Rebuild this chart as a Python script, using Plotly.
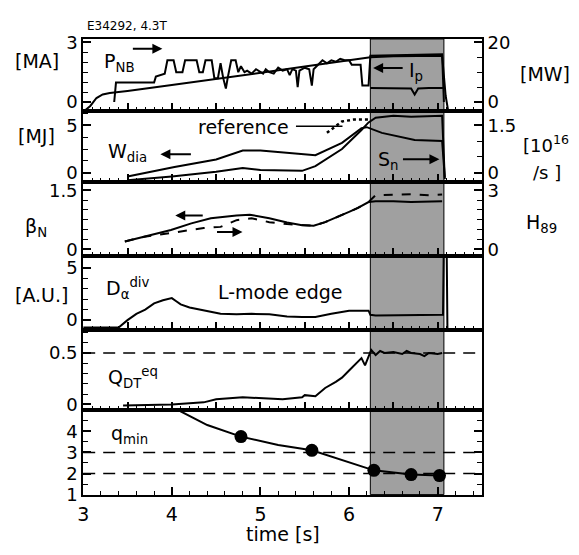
import plotly.graph_objects as go

W, H = 579, 555
FONT = "DejaVu Sans"
FS = 19
TFS = 18

# ---------------- data ----------------
# panel 1: plasma current [MA] and NB power [MW]
ip_t = [3.0, 3.08, 3.15, 3.22, 3.3, 3.5, 4.0, 4.5, 5.0, 5.5, 6.0, 6.24, 6.5, 7.0, 7.05, 7.09, 7.12]
ip_ma = [-0.5, -0.2, 0.2, 0.38, 0.45, 0.55, 0.85, 1.15, 1.47, 1.78, 2.1, 2.25, 2.3, 2.33, 2.33, 0.3, -0.5]

pnb_t = [3.35, 3.37, 3.8, 3.82, 3.92, 3.95, 4.02, 4.05, 4.12, 4.15, 4.28, 4.31, 4.35, 4.38, 4.45,
         4.48, 4.52, 4.55, 4.58, 4.61, 4.63, 4.67, 4.72, 4.75, 4.78, 4.82, 4.85, 4.9, 4.95, 5.0,
         5.03, 5.06, 5.1, 5.15, 5.2, 5.25, 5.3, 5.33, 5.36, 5.4, 5.42, 5.44, 5.5, 5.55, 5.58,
         5.6, 5.65, 5.7, 5.75, 5.8, 5.85, 5.9, 5.95, 6.0, 6.03, 6.13, 6.15, 6.22, 6.24, 7.05, 7.07]
pnb_mw = [0, 6.5, 6.5, 8.5, 9.5, 14, 14, 10, 10, 14, 14, 10, 10, 14, 14,
          8, 8, 13, 8, 4.5, 8, 14, 14, 10, 12, 10, 10.5, 9.5, 11, 10,
          9.5, 11, 10, 9.5, 11.5, 10.5, 11, 9, 11, 10.5, 5, 10.5, 11.5, 11, 5.5,
          11, 12.5, 14, 13, 14, 13.5, 14.5, 14, 14, 12.5, 12.5, 5.5, 5.5, 15.5, 16, 0]

pnb2_t = [6.24, 6.6, 6.7, 6.74, 6.78, 6.9, 7.06]
pnb2_mw = [4.7, 4.7, 4.5, 2.5, 4.5, 4.7, 4.7]

# panel 2: stored energy [MJ], neutron rate [1e16/s], reference
wdia_t = [3.5, 4.03, 4.5, 4.8, 5.0, 5.25, 5.62, 5.92, 6.14, 6.2, 6.37, 6.74, 7.05, 7.08]
wdia_mj = [-0.4, 0.6, 1.4, 2.35, 2.35, 2.15, 1.85, 3.15, 4.7, 4.8, 4.2, 3.45, 3.35, -0.5]

sn_t = [3.5, 4.0, 4.5, 4.8, 5.0, 5.47, 5.62, 5.92, 6.14, 6.22, 6.3, 6.5, 6.7, 6.9, 7.05, 7.08]
sn_val = [-0.24, -0.12, 0.03, 0.15, 0.09, 0.06, 0.21, 0.75, 1.35, 1.59, 1.74, 1.8, 1.77, 1.8, 1.8, -0.2]

ref_t = [5.75, 5.85, 5.92, 6.05, 6.18, 6.24]
ref_mj = [4.2, 4.9, 5.4, 5.6, 5.6, 5.6]

# panel 3: beta_N and H89
bn_t = [3.47, 3.69, 3.99, 4.22, 4.44, 4.73, 4.88, 5.1, 5.3, 5.47, 5.6, 5.73, 5.85, 6.0, 6.1,
        6.22, 6.3, 6.5, 6.7, 6.9, 7.05]
bn_val = [0.2, 0.32, 0.49, 0.66, 0.79, 0.86, 0.88, 0.79, 0.68, 0.61, 0.6, 0.69, 0.8, 0.95, 1.05,
          1.2, 1.22, 1.22, 1.2, 1.22, 1.22]
h89_t = [3.47, 3.69, 4.06, 4.36, 4.55, 4.73, 4.9, 5.1, 5.3, 5.47, 5.6, 5.73, 5.85, 6.0, 6.1,
         6.22, 6.3, 6.5, 6.7, 6.9, 7.05]
h89_val = [0.4, 0.64, 0.88, 1.08, 1.14, 1.48, 1.58, 1.38, 1.28, 1.22, 1.2, 1.38, 1.6, 1.9, 2.1,
           2.4, 2.75, 2.76, 2.8, 2.74, 2.78]

# panel 4: D-alpha divertor [A.U.]
da_t = [3.0, 3.4, 3.5, 3.6, 3.7, 3.8, 3.9, 4.0, 4.05, 4.1, 4.2, 4.36, 4.55, 4.73, 4.9, 5.1,
        5.3, 5.47, 5.62, 5.8, 6.0, 6.22, 6.24, 6.3, 6.5, 6.8, 7.0, 7.06, 7.07, 7.1, 7.11]
da_val = [-0.7, -0.7, 0.0, 0.6, 1.0, 1.6, 1.9, 2.1, 1.8, 1.5, 1.2, 0.9, 0.6, 0.55, 0.6, 0.55,
          0.35, 0.3, 0.3, 0.6, 0.9, 0.9, 0.5, 0.45, 0.45, 0.45, 0.45, 0.5, 8.0, 8.0, -1.0]

# panel 5: equivalent Q_DT
q_t = [3.45, 4.0, 4.36, 4.5, 4.8, 5.0, 5.25, 5.47, 5.5, 5.62, 5.73, 5.85, 5.92, 6.0, 6.07, 6.12,
       6.14, 6.18, 6.22, 6.25, 6.3, 6.35, 6.4, 6.5, 6.6, 6.65, 6.7, 6.8, 6.85, 6.9, 7.0, 7.05]
q_val = [-0.01, 0.0, 0.02, 0.05, 0.07, 0.06, 0.05, 0.07, 0.09, 0.08, 0.16, 0.22, 0.26, 0.33, 0.39, 0.44,
         0.45, 0.38, 0.46, 0.53, 0.48, 0.52, 0.5, 0.51, 0.49, 0.52, 0.5, 0.49, 0.47, 0.5, 0.49, 0.5]

# panel 6: q_min
qmin_line_t = [4.0, 4.1, 4.4, 4.78, 5.2, 5.58, 6.28, 6.7, 7.02]
qmin_line_v = [5.3, 4.95, 4.3, 3.75, 3.35, 3.1, 2.15, 1.95, 1.9]
qmin_pt_t = [4.78, 5.58, 6.28, 6.7, 7.02]
qmin_pt_v = [3.75, 3.1, 2.15, 1.95, 1.9]

shade_t = [6.24, 7.07]

# ---------------- layout ----------------
ybounds = [33, 107, 181, 257, 333, 416, 503]
XL, XR = 78, 481
xdom = [XL / W, XR / W]

left_ranges = [[-0.44, 3.17], [-1.02, 6.53], [-0.172, 1.697], [-0.926, 6.11], [-0.057, 0.726], [1.0, 5.0]]
right_ranges = {7: [-0.44 * 20 / 3, 3.17 * 20 / 3], 8: [-1.02 * 0.3, 6.53 * 0.3], 9: [-0.344, 3.394]}

fig = go.Figure()
tickfont = dict(family=FONT, size=TFS, color="black")

def yd(i):
    top, bot = ybounds[i], ybounds[i + 1]
    return [1 - bot / H, 1 - top / H]

left_ticks = [
    dict(tickvals=[0, 3], minor=dict(dtick=0.5, tick0=0)),
    dict(tickvals=[0, 5], minor=dict(dtick=1.25, tick0=0)),
    dict(tickvals=[0, 1.5], ticktext=["0", "1.5"], minor=dict(dtick=0.25, tick0=0)),
    dict(tickvals=[0, 5], minor=dict(dtick=1, tick0=0)),
    dict(tickvals=[0, 0.5], ticktext=["0", "0.5"], minor=dict(dtick=0.1, tick0=0)),
    dict(tickvals=[1, 2, 3, 4], minor=dict(dtick=0.5, tick0=1)),
]

for i in range(6):
    n = "" if i == 0 else str(i + 1)
    xa = dict(domain=xdom, range=[3, 7.5], anchor="y" + n, showline=True, mirror=True,
              linewidth=2, linecolor="black", showgrid=False, zeroline=False,
              ticks="inside", ticklen=8, tickwidth=1.5, tickcolor="black",
              tickfont=dict(family=FONT, size=FS, color="black"))
    if i < 5:
        xa.update(tick0=3, dtick=0.5, showticklabels=False,
                  minor=dict(ticks="inside", dtick=0.1, tick0=3, ticklen=4, tickwidth=1.2, tickcolor="black"))
    else:
        xa.update(tick0=3, dtick=1, showticklabels=True, ticklabelstandoff=2,
                  minor=dict(ticks="inside", dtick=0.2, tick0=3, ticklen=4, tickwidth=1.2, tickcolor="black"))
    lt = left_ticks[i]
    minor = dict(ticks="inside", ticklen=5, tickwidth=1.2, tickcolor="black", **lt["minor"])
    ya = dict(domain=yd(i), range=left_ranges[i], anchor="x" + n, showline=True,
              mirror=("ticks" if i == 5 else True), linewidth=2, linecolor="black", showgrid=False,
              zeroline=False, ticks="inside", ticklen=8, tickwidth=1.5, tickcolor="black",
              tickmode="array", tickvals=lt["tickvals"], tickfont=tickfont, minor=minor)
    if "ticktext" in lt:
        ya["ticktext"] = lt["ticktext"]
    fig.update_layout(**{"xaxis" + n: xa, "yaxis" + n: ya})

right_ticks = {7: ([0, 20], 5, 0), 8: ([0, 1.5], 0.5, 0), 9: ([0, 3], 0.5, 0)}
for k, base in [(7, ""), (8, "2"), (9, "3")]:
    tv, md, m0 = right_ticks[k]
    fig.update_layout(**{"yaxis" + str(k): dict(
        overlaying="y" + base, side="right", anchor="x" + base, range=right_ranges[k],
        showline=True, linewidth=2, linecolor="black", showgrid=False, zeroline=False,
        ticks="inside", ticklen=8, tickwidth=1.5, tickcolor="black", tickmode="array",
        tickvals=tv, ticktext=[str(v) for v in tv], tickfont=tickfont,
        minor=dict(ticks="inside", dtick=md, tick0=m0, ticklen=5, tickwidth=1.2, tickcolor="black"))})

line = dict(color="black", width=2)

def tr(x, y, xa, ya, **kw):
    d = dict(x=x, y=y, xaxis=xa, yaxis=ya, mode="lines", line=line, showlegend=False, hoverinfo="skip")
    d.update(kw)
    fig.add_trace(go.Scatter(**d))

tr(ip_t, ip_ma, "x", "y")
tr(pnb_t, pnb_mw, "x", "y7")
tr(pnb2_t, pnb2_mw, "x", "y7")
tr(wdia_t, wdia_mj, "x2", "y2")
tr(sn_t, sn_val, "x2", "y8")
tr(ref_t, ref_mj, "x2", "y2", line=dict(color="black", width=2.5, dash="dot"))
tr(bn_t, bn_val, "x3", "y3")
tr(h89_t, h89_val, "x3", "y9", line=dict(color="black", width=2, dash="dash"))
tr(da_t, da_val, "x4", "y4")
tr(q_t, q_val, "x5", "y5")
tr(qmin_line_t, qmin_line_v, "x6", "y6")
tr(qmin_pt_t, qmin_pt_v, "x6", "y6", mode="markers", marker=dict(color="black", size=13))

# shaded high-performance phase
fig.add_shape(type="rect", xref="x", yref="paper", x0=shade_t[0], x1=shade_t[1],
              y0=1 - ybounds[-1] / H, y1=1 - ybounds[0] / H,
              fillcolor="#a0a0a0", line=dict(color="black", width=1), layer="below")

# dashed reference levels
for xa_, ya_, lvl in [("x5", "y5", 0.5), ("x6", "y6", 3), ("x6", "y6", 2)]:
    fig.add_shape(type="line", xref=xa_ + " domain", yref=ya_, x0=0, x1=1, y0=lvl, y1=lvl,
                  line=dict(color="black", width=1.5, dash="12px,8px"))

# "reference" leader line
fig.add_shape(type="line", xref="paper", yref="paper", x0=293 / W, x1=340 / W,
              y0=1 - 123 / H, y1=1 - 123 / H, line=dict(color="black", width=1.5))

def ann(text, x, y, size=FS, xanchor="center", yanchor="middle"):
    fig.add_annotation(text=text, x=x / W, y=1 - y / H, xref="paper", yref="paper",
                       showarrow=False, xanchor=xanchor, yanchor=yanchor,
                       font=dict(family=FONT, size=size, color="black"))

def arrow(x_tail, x_head, y):
    fig.add_annotation(text="", x=x_head / W, y=1 - y / H, xref="paper", yref="paper",
                       ax=x_tail - x_head, ay=0, showarrow=True, arrowhead=2, arrowsize=1,
                       arrowwidth=2, arrowcolor="black")

ann("E34292, 4.3T", 80, 20, size=12, xanchor="left")
ann("[MA]", 31, 56)
ann("[MW]", 545, 69)
ann("P<sub>NB</sub>", 97, 57, xanchor="left")
arrow(127, 158, 43)
ann("I<sub>p</sub>", 405, 67, xanchor="left")
arrow(402, 371, 63)

ann("[MJ]", 31, 133)
ann("W<sub>dia</sub>", 101, 150, xanchor="left")
arrow(188, 156, 152)
ann("reference", 192, 124, xanchor="left")
ann("S<sub>n</sub>", 374, 158, xanchor="left")
arrow(400, 438, 157)
ann("[10<sup>16</sup>", 520, 141, size=18, xanchor="left")
ann("/s ]", 547, 171, size=18)

ann("β<sub>N</sub>", 30, 227)
ann("H<sub>89</sub>", 541, 223)
arrow(200, 171, 215)
arrow(212, 239, 232)

ann("[A.U.]", 36, 297)
ann("D<sub>α</sub><sup>div</sup>", 99, 290, xanchor="left")
ann("L-mode edge", 212, 294, xanchor="left")

ann("Q<sub>DT</sub><sup>eq</sup>", 101, 382, xanchor="left")
ann("q<sub>min</sub>", 104, 441, xanchor="left")
ann("time [s]", 280, 544)

fig.update_layout(width=W, height=H, margin=dict(l=0, r=0, t=0, b=0),
                  paper_bgcolor="white", plot_bgcolor="rgba(0,0,0,0)", showlegend=False,
                  font=dict(family=FONT, size=FS, color="black"))

fig.write_html("out.html", config={"displayModeBar": False},
               post_script="document.body.style.margin='0px';document.body.style.overflow='hidden';")
